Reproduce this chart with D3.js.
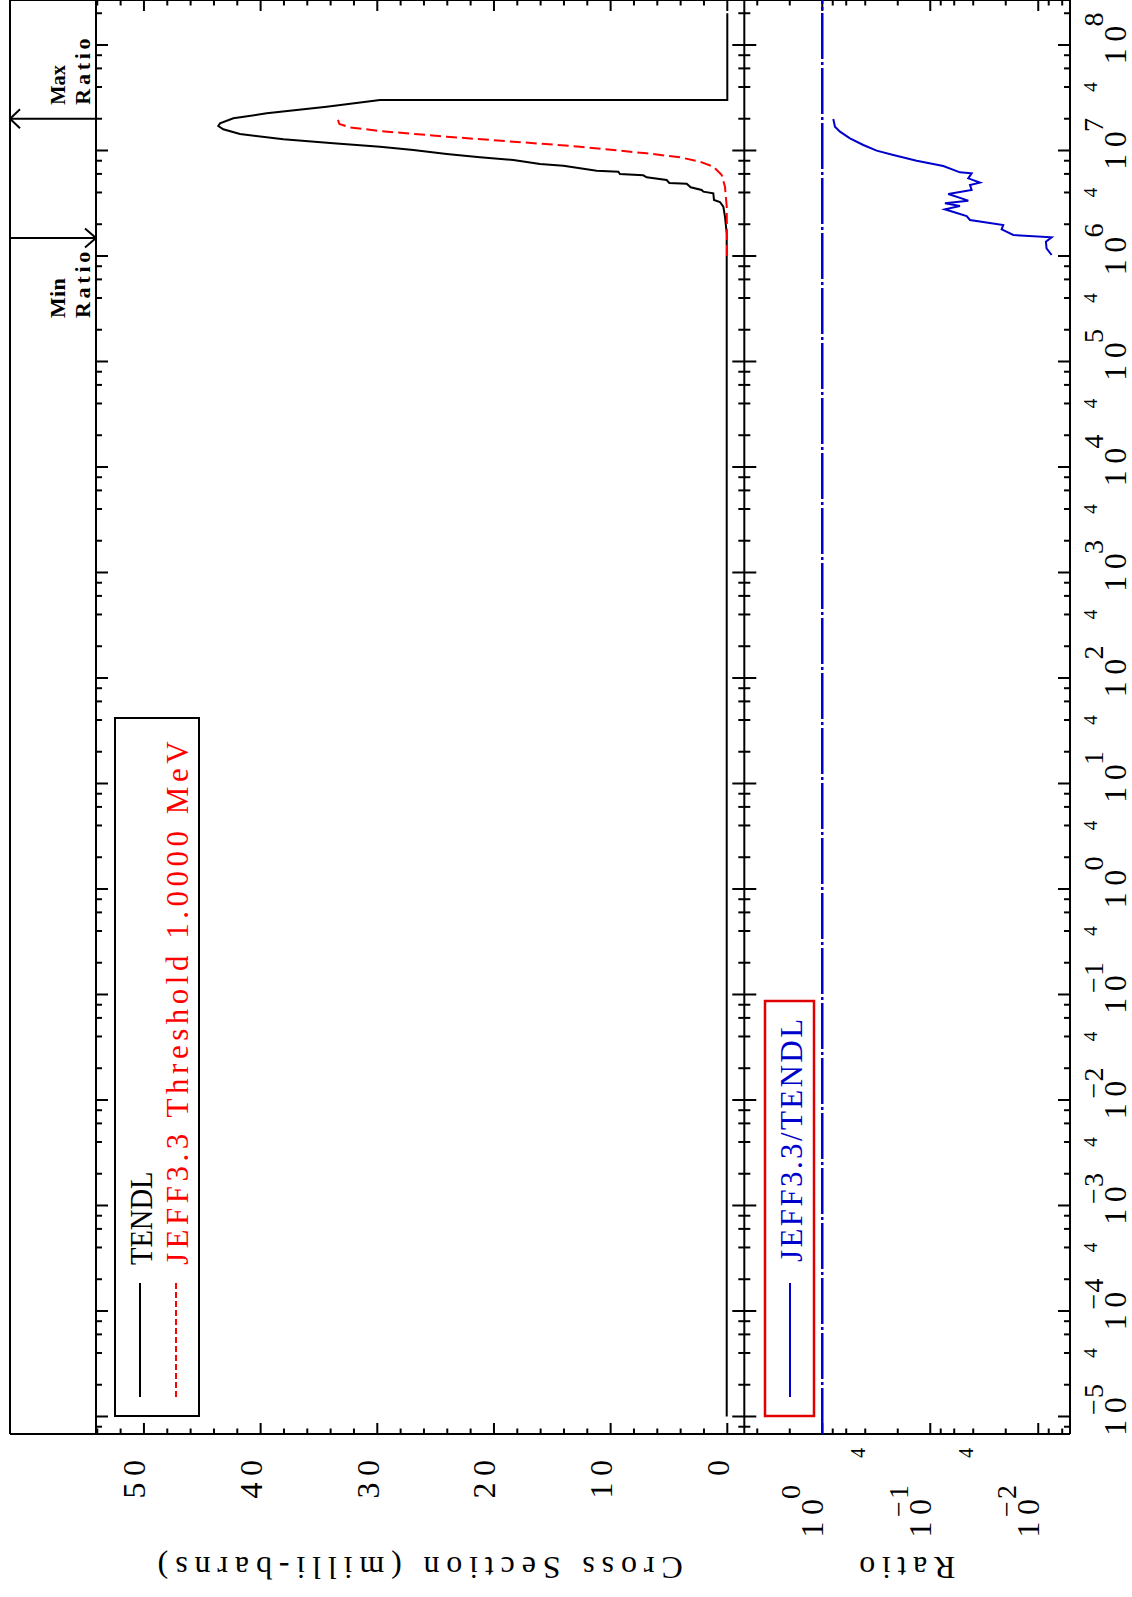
<!DOCTYPE html>
<html>
<head>
<meta charset="utf-8">
<script src="https://cdn.jsdelivr.net/npm/d3@7"></script>
<style>
  body { margin: 0; background: #fff; }
  svg { display: block; }
  text { font-family: "Liberation Serif", "DejaVu Serif", serif; }
</style>
</head>
<body>
<div id="chartDiv"></div>
<script>
// TENDL cross section, energy in eV, value in milli-barns
var tendlE  = [1e-5, 1.060e6, 1.640e6, 2.359e6, 2.935e6, 3.249e6, 3.395e6, 3.926e6, 4.072e6, 4.223e6,
               4.476e6, 4.849e6, 4.920e6, 5.253e6, 5.568e6, 5.815e6, 5.988e6, 6.301e6, 6.439e6, 6.630e6,
               7.182e6, 7.447e6, 8.128e6, 8.617e6, 9.265e6, 1.011e7, 1.087e7, 1.169e7, 1.276e7, 1.434e7,
               1.588e7, 1.707e7, 1.809e7, 2.018e7, 2.251e7, 2.603e7, 3.011e7, 3.012e7, 2.0e8];
var tendlXS = [0.05, 0.05, 0.05, 0.20, 0.34, 0.63, 1.14, 1.20, 2.05, 2.20,
               3.14, 3.48, 4.97, 5.20, 6.91, 7.20, 9.20, 9.34, 11.20, 12.05,
               14.05, 16.05, 18.34, 21.20, 24.05, 26.91, 29.77, 33.77, 38.05, 41.77,
               43.20, 43.63, 43.48, 42.34, 39.48, 34.34, 29.77, 0.0, 0.0];

// JEFF3.3 cross section
var jeffE  = [1.0e6, 2.935e6, 4.542e6, 5.859e6, 7.028e6, 7.839e6, 8.617e6, 9.402e6, 1.087e7,
              1.213e7, 1.352e7, 1.530e7, 1.658e7, 1.783e7, 2.0e7];
var jeffXS = [0.02, 0.05, 0.20, 0.48, 1.20, 2.34, 4.05, 6.91, 12.63,
              18.34, 24.05, 29.77, 32.34, 33.25, 33.4];

// JEFF3.3/TENDL ratio
var ratioE   = [1.022e6, 1.182e6, 1.367e6, 1.503e6, 1.582e6, 1.789e6, 1.967e6, 2.194e6, 2.394e6, 2.770e6,
                2.978e6, 3.157e6, 3.346e6, 3.870e6, 4.223e6, 4.710e6, 4.956e6, 5.448e6, 6.076e6, 6.210e6,
                7.131e6, 8.010e6, 9.065e6, 9.963e6, 1.127e7, 1.304e7, 1.509e7, 1.682e7, 1.989e7];
var ratioVal = [0.00752, 0.00838, 0.00849, 0.00752, 0.01702, 0.02183, 0.02109, 0.04285, 0.04603, 0.07311,
                0.05309, 0.07311, 0.04446, 0.06808, 0.04140, 0.04285, 0.03467, 0.04446, 0.04140, 0.05309,
                0.0757, 0.1337, 0.2199, 0.3137, 0.4169, 0.5539, 0.6856, 0.7627, 0.7905];

var xsTicks = [0, 10, 20, 30, 40, 50];
var energyDecades = [-5, -4, -3, -2, -1, 0, 1, 2, 3, 4, 5, 6, 7, 8];
var energyFours = [4e-5, 4e-4, 4e-3, 4e-2, 4e-1, 4, 40, 400, 4e3, 4e4, 4e5, 4e6, 4e7];
var ratioDecades = [0, -1, -2];
var ratioFours = [0.4, 0.04];
var legendXS = ['TENDL', 'JEFF3.3 Threshold 1.0000 MeV'];
var legendRatio = 'JEFF3.3/TENDL';
var maxRatioE = 2.0e7, minRatioE = 1.48e6;

// fit a text to a fixed pitch: open the spacing, squeeze only if it is too wide
function fitPitch(t, target) {
  var natural = t.node().getComputedTextLength();
  t.attr('textLength', target)
   .attr('lengthAdjust', natural > target ? 'spacingAndGlyphs' : 'spacing');
}

function buildChart() {
  var W = 1132, H = 1597;
  var svg = d3.select('#chartDiv').append('svg')
    .attr('width', W)
    .attr('height', H);
  svg.append('rect').attr('width', W).attr('height', H).attr('fill', '#fff');

  // the plot is laid out landscape and turned a quarter turn
  var g = svg.append('g')
    .attr('transform', 'translate(0,' + H + ') rotate(-90)');

  var pLeft = 163, pRight = 1597, pStrip = 10, pTop = 96, pMid = 744.3, pBottom = 1070;

  var x = d3.scaleLog()
    .domain([Math.pow(10, -5.166), Math.pow(10, 8.4265)])
    .range([pLeft, pRight]);
  var y = d3.scaleLinear()
    .domain([-1.457, 54.11])
    .range([pMid, pTop]);
  var yr = d3.scaleLog()
    .domain([Math.pow(10, -2.294), Math.pow(10, 0.722)])
    .range([pBottom, pMid]);

  function seg(x1, y1, x2, y2, col, w) {
    g.append('line')
      .attr('x1', x1).attr('y1', y1).attr('x2', x2).attr('y2', y2)
      .attr('stroke', col || '#000').attr('stroke-width', w || 2);
  }
  function txt(px, py, str, size, anchor, col) {
    str = String(str);
    var t = g.append('text').attr('x', px).attr('y', py)
      .attr('font-size', size)
      .attr('text-anchor', anchor || 'start')
      .attr('fill', col || '#000')
      .text(str);
    if (str.length > 1) fitPitch(t, str.length * 18.7 * size / 31);
    return t;
  }

  // frame
  seg(pLeft, pStrip, pRight, pStrip);
  seg(pLeft, pStrip, pLeft, pBottom);
  seg(pLeft, pTop, pRight, pTop);
  seg(pLeft, pMid, pRight, pMid);
  seg(pLeft, pBottom, pRight, pBottom);
  seg(pRight, pStrip, pRight, pBottom);

  // energy ticks
  var eTicks = [];
  for (var n = -6; n <= 8; n++) {
    [1, 2, 4, 6, 8].forEach(function(m) {
      var v = m * Math.pow(10, n);
      if (x(v) >= pLeft && x(v) <= pRight) eTicks.push({v: v, major: m === 1});
    });
  }
  eTicks.forEach(function(t) {
    var px = x(t.v), L = t.major ? 12 : 6;
    seg(px, pTop, px, pTop + L);
    seg(px, pMid - L, px, pMid + L);
    seg(px, pBottom - L, px, pBottom);
  });

  // cross section ticks
  for (var s = 0; s <= 54; s += 2) {
    var L = (s % 10 === 0) ? 11 : 5.5;
    seg(pLeft, y(s), pLeft + L, y(s));
    seg(pRight - L, y(s), pRight, y(s));
  }

  // ratio ticks
  var rTicks = [];
  for (var k = -3; k <= 0; k++) {
    [1, 2, 4, 6, 8].forEach(function(m) {
      var v = m * Math.pow(10, k);
      if (yr(v) <= pBottom && yr(v) >= pMid) rTicks.push({v: v, major: m === 1});
    });
  }
  rTicks.forEach(function(t) {
    var py = yr(t.v), L = t.major ? 11 : 5.5;
    seg(pLeft, py, pLeft + L, py);
    seg(pRight - L, py, pRight, py);
  });

  // energy labels
  energyDecades.forEach(function(n) {
    var px = x(Math.pow(10, n));
    txt(px, 1126, '10', 32, 'middle');
    txt(px + 18.6, 1103, Math.abs(n), 28);
    if (n < 0) txt(px + 9.5, 1103, '\u2212', 28, 'middle');
  });
  energyFours.forEach(function(v) {
    txt(x(v), 1097, '4', 19, 'middle');
  });

  // cross section labels
  xsTicks.forEach(function(v) {
    txt(137, y(v) + 1.5, v, 32, 'end');
  });

  // ratio labels
  ratioDecades.forEach(function(n) {
    var py = yr(Math.pow(10, n));
    txt(98, py + 1, '10', 32, 'end');
    txt(98, py - 22, Math.abs(n), 28);
    if (n < 0) txt(88, py - 22, '\u2212', 28, 'middle');
  });
  ratioFours.forEach(function(v) {
    txt(149, yr(v), '4', 20, 'end');
  });

  // axis titles
  var ttl1 = g.append('text')
    .attr('transform', 'translate(40,' + ((pTop + pMid) / 2) + ') rotate(-90)')
    .attr('text-anchor', 'middle').attr('font-size', 32)
    .text('Cross Section (milli-barns)');
  fitPitch(ttl1, 525);
  var ttl2 = g.append('text')
    .attr('transform', 'translate(40,' + ((pMid + pBottom) / 2) + ') rotate(-90)')
    .attr('text-anchor', 'middle').attr('font-size', 32)
    .text('Ratio');
  fitPitch(ttl2, 96);

  // ratio = 1 reference
  g.append('line')
    .attr('x1', pLeft).attr('x2', pRight)
    .attr('y1', yr(1)).attr('y2', yr(1))
    .attr('stroke', '#0000cc').attr('stroke-width', 2.5)
    .attr('stroke-dasharray', '46,3,3,3');

  // curves
  var xsLine = d3.line()
    .x(function(d) { return x(d[0]); })
    .y(function(d) { return y(d[1]); });
  var ratioLine = d3.line()
    .x(function(d) { return x(d[0]); })
    .y(function(d) { return yr(d[1]); });

  g.append('path')
    .datum(tendlE.map(function(e, i) { return [e, tendlXS[i]]; }))
    .attr('d', xsLine)
    .attr('fill', 'none').attr('stroke', '#000').attr('stroke-width', 2);

  g.append('path')
    .datum(jeffE.map(function(e, i) { return [e, jeffXS[i]]; }))
    .attr('d', xsLine)
    .attr('fill', 'none').attr('stroke', '#ff0000').attr('stroke-width', 2)
    .attr('stroke-dasharray', '11,5');

  g.append('path')
    .datum(ratioE.map(function(e, i) { return [e, ratioVal[i]]; }))
    .attr('d', ratioLine)
    .attr('fill', 'none').attr('stroke', '#0000cc').attr('stroke-width', 2);

  // min / max ratio markers
  var xMax = x(maxRatioE), xMin = x(minRatioE);
  seg(xMax, pStrip, xMax, pTop);
  seg(xMax - 9.5, pStrip + 10, xMax, pStrip);
  seg(xMax + 9.5, pStrip + 10, xMax, pStrip);
  seg(xMin, pStrip, xMin, pTop);
  seg(xMin - 9.5, pTop - 11, xMin, pTop);
  seg(xMin + 9.5, pTop - 11, xMin, pTop);

  [['Max', 65], ['Ratio', 90]].forEach(function(r) {
    txt(xMax + 14, r[1], r[0], 22).attr('font-weight', 'bold');
  });
  [['Min', 65], ['Ratio', 90]].forEach(function(r) {
    txt(xMin - 14 - 66, r[1], r[0], 22).attr('font-weight', 'bold');
  });

  // legends
  g.append('rect')
    .attr('x', 181).attr('y', 115).attr('width', 698).attr('height', 84)
    .attr('fill', 'none').attr('stroke', '#000').attr('stroke-width', 2);
  seg(200, 140, 314, 140, '#000', 2);
  g.append('line')
    .attr('x1', 200).attr('x2', 314).attr('y1', 176).attr('y2', 176)
    .attr('stroke', '#ff0000').attr('stroke-width', 2).attr('stroke-dasharray', '6,3');
  txt(332, 151.5, legendXS[0], 31);
  txt(332, 188, legendXS[1], 31, 'start', '#ff0000');

  g.append('rect')
    .attr('x', 181).attr('y', 765).attr('width', 415).attr('height', 49)
    .attr('fill', '#fff').attr('stroke', '#e00000').attr('stroke-width', 2.5);
  seg(200, 790, 314, 790, '#0000cc', 2);
  txt(335, 801.5, legendRatio, 31, 'start', '#0000cc');
}

buildChart();
</script>
</body>
</html>
